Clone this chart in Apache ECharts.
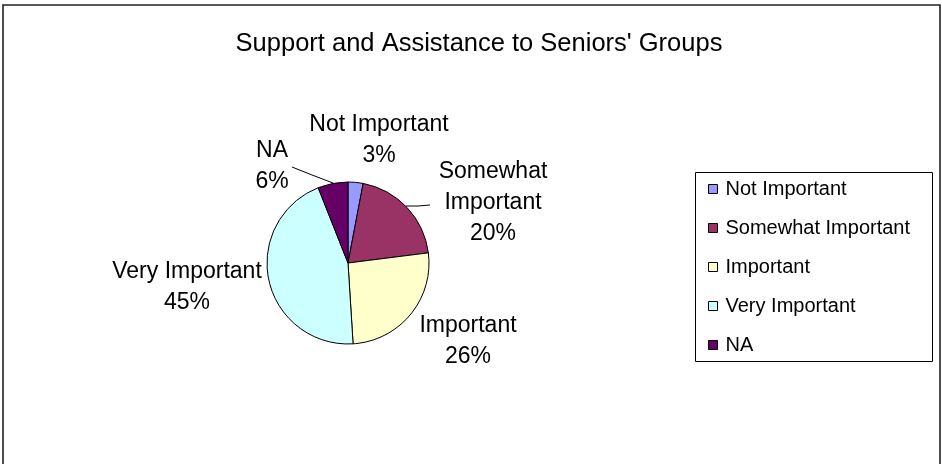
<!DOCTYPE html>
<html>
<head>
<meta charset="utf-8">
<title>Support and Assistance to Seniors' Groups</title>
<script src="https://cdn.jsdelivr.net/npm/echarts@6/dist/echarts.min.js"></script>
<style>
  html, body { margin: 0; padding: 0; background: #ffffff; }
  #chart { width: 942px; height: 464px; }
</style>
</head>
<body>
<div id="chart"></div>
<script>
// Survey responses (percent of respondents)
const categories = ['Not Important', 'Somewhat Important', 'Important', 'Very Important', 'NA'];
const shares = [3, 20, 26, 45, 6];
const sliceColors = ['#9999FF', '#993366', '#FFFFCC', '#CCFFFF', '#660066'];
const chartTitle = "Support and Assistance to Seniors' Groups";

// Label placement: block centre for each category's label, and leader lines
const labelCentres = [[379, 140], [493, 203], [468, 341], [187, 287], [272, 166]];
const leaderLines = {
  1: [[406, 206], [418, 206], [430, 205]],
  4: [[333, 183], [312, 175], [292, 167]]
};

const FONT = 'Arial, "Liberation Sans", Helvetica, sans-serif';

const chart = echarts.init(document.getElementById('chart'), null, { renderer: 'canvas' });

const pieData = categories.map((name, i) => ({
  name: name,
  value: shares[i],
  itemStyle: { color: sliceColors[i] },
  labelLine: { show: leaderLines[i] != null }
}));

chart.setOption({
  animation: false,
  backgroundColor: '#ffffff',
  title: {
    text: chartTitle,
    left: 474,
    top: 26,
    textAlign: 'center',
    textStyle: { fontFamily: FONT, fontSize: 25.5, fontWeight: 'normal', color: '#000', lineHeight: 25 }
  },
  legend: {
    orient: 'vertical',
    left: 703,
    top: 174,
    itemWidth: 9,
    itemHeight: 9,
    itemGap: 19,
    icon: 'rect',
    selectedMode: false,
    itemStyle: { borderColor: '#000', borderWidth: 1 },
    textStyle: { fontFamily: FONT, fontSize: 20, color: '#000', lineHeight: 20, padding: [0, 0, 0, 3] },
    data: categories
  },
  graphic: [
    {
      type: 'rect',
      shape: { x: 3, y: 5, width: 937, height: 520 },
      style: { fill: 'none', stroke: '#222', lineWidth: 1.6 },
      silent: true
    },
    {
      type: 'rect',
      shape: { x: 695.5, y: 172.5, width: 237, height: 189 },
      style: { fill: 'none', stroke: '#000', lineWidth: 1 },
      silent: true
    }
  ],
  series: [{
    type: 'pie',
    center: [348, 263],
    radius: 81,
    startAngle: 90,
    clockwise: true,
    avoidLabelOverlap: false,
    itemStyle: { borderColor: '#000', borderWidth: 1 },
    emphasis: { disabled: true },
    label: {
      show: true,
      position: 'outside',
      fontFamily: FONT,
      fontSize: 23,
      lineHeight: 31,
      color: '#000',
      align: 'center',
      formatter: function (p) {
        const name = p.dataIndex === 1 ? p.name.replace(' ', '\n') : p.name;
        return name + '\n' + Math.round(p.percent) + '%';
      }
    },
    labelLine: { lineStyle: { color: '#000', width: 1 } },
    labelLayout: function (params) {
      const c = labelCentres[params.dataIndex];
      const out = { x: c[0], y: c[1], align: 'center', verticalAlign: 'middle' };
      if (leaderLines[params.dataIndex]) out.labelLinePoints = leaderLines[params.dataIndex];
      return out;
    },
    data: pieData
  }]
});
</script>
</body>
</html>
